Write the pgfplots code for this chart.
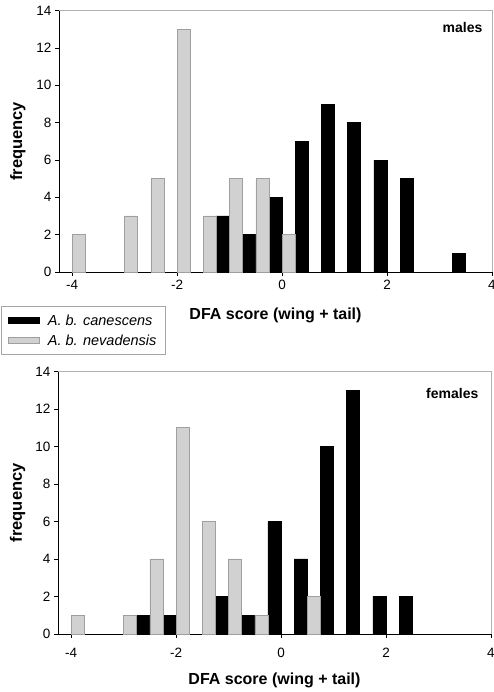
\documentclass[border=0pt]{standalone}
\usepackage{pgfplots}
\pgfplotsset{compat=1.18}
\usepackage{fontspec}
\setmainfont{Liberation Sans}
\begin{document}
\begin{tikzpicture}[x=1pt,y=1pt]
\useasboundingbox (0,0) rectangle (494,692);
\pgfplotsset{
  histo/.style={
    scale only axis, width=433pt,
    xmin=-4.25, xmax=4, ymin=0, ymax=14,
    xtick={-4,-2,0,2,4}, ytick={0,2,...,14},
    axis x line*=bottom, axis y line*=left,
    axis line style={black, line width=0.7pt},
    tick align=outside, major tick length=4pt,
    tick style={black, line width=0.6pt},
    /pgf/number format/assume math mode=true,
    tick label style={font=\fontsize{13.5}{15}\selectfont},
    ybar, bar width=0.25, bar shift=0pt,
    every axis y label/.style={rotate=90, anchor=center, font=\bfseries\fontsize{16.5}{18}\selectfont},
    every axis x label/.style={anchor=center, font=\bfseries\fontsize{16}{18}\selectfont},
    clip=false,
  },
  greybar/.style={fill=gray!36, draw=gray!75, line width=0.6pt},
  blackbar/.style={fill=black, draw=black, line width=0.6pt},
}
% ---------------- males ----------------
\begin{axis}[histo,
  at={(59pt,420pt)}, anchor=south west, height=261.3pt,
  xticklabel style={yshift=-1pt},
  ylabel={frequency}, ylabel style={at={(axis description cs:-0.095,0.5)}},
  xlabel={DFA score (wing + tail)}, xlabel style={at={(axis description cs:0.5,-0.168)}},
  legend style={at={(axis description cs:-0.134,-0.318)}, anchor=south west,
    draw=gray!70, fill=white, line width=0.6pt,
    font=\itshape\fontsize{14.5}{17}\selectfont,
    row sep=4pt, inner xsep=7pt, inner ysep=6pt,
    /tikz/every odd column/.append style={column sep=6pt}},
  legend cell align=left,
  legend image code/.code={\draw[#1,/tikz/.cd] (0pt,-3pt) rectangle (31pt,3pt);},
]
\addplot[blackbar] coordinates {(-1.125,3) (-0.625,2) (-0.125,4) (0.375,7) (0.875,9) (1.375,8) (1.875,6) (2.375,5) (3.375,1)};
\addplot[greybar] coordinates {(-3.875,2) (-2.875,3) (-2.375,5) (-1.875,13) (-1.375,3) (-0.875,5) (-0.375,5) (0.125,2)};
\legend{A. b. canescens, A. b. nevadensis}
\draw[gray!60, line width=0.6pt] (rel axis cs:0,1) -- (rel axis cs:1,1) -- (rel axis cs:1,0);
\node[anchor=east, font=\bfseries\fontsize{14}{16}\selectfont] at (rel axis cs:0.986,0.935) {males};
\end{axis}
% ---------------- females ----------------
\begin{axis}[histo,
  at={(58pt,58pt)}, anchor=south west, height=262.5pt,
  xticklabel style={yshift=-7pt},
  ylabel={frequency}, ylabel style={at={(axis description cs:-0.093,0.5)}},
  xlabel={DFA score (wing + tail)}, xlabel style={at={(axis description cs:0.5,-0.175)}},
]
\addplot[blackbar] coordinates {(-2.625,1) (-2.125,1) (-1.125,2) (-0.625,1) (-0.125,6) (0.375,4) (0.875,10) (1.375,13) (1.875,2) (2.375,2)};
\addplot[greybar] coordinates {(-3.875,1) (-2.875,1) (-2.375,4) (-1.875,11) (-1.375,6) (-0.875,4) (-0.375,1) (0.625,2)};
\draw[gray!60, line width=0.6pt] (rel axis cs:0,1) -- (rel axis cs:1,1) -- (rel axis cs:1,0);
\node[anchor=east, font=\bfseries\fontsize{14}{16}\selectfont] at (rel axis cs:0.979,0.918) {females};
\end{axis}
\end{tikzpicture}
\end{document}
